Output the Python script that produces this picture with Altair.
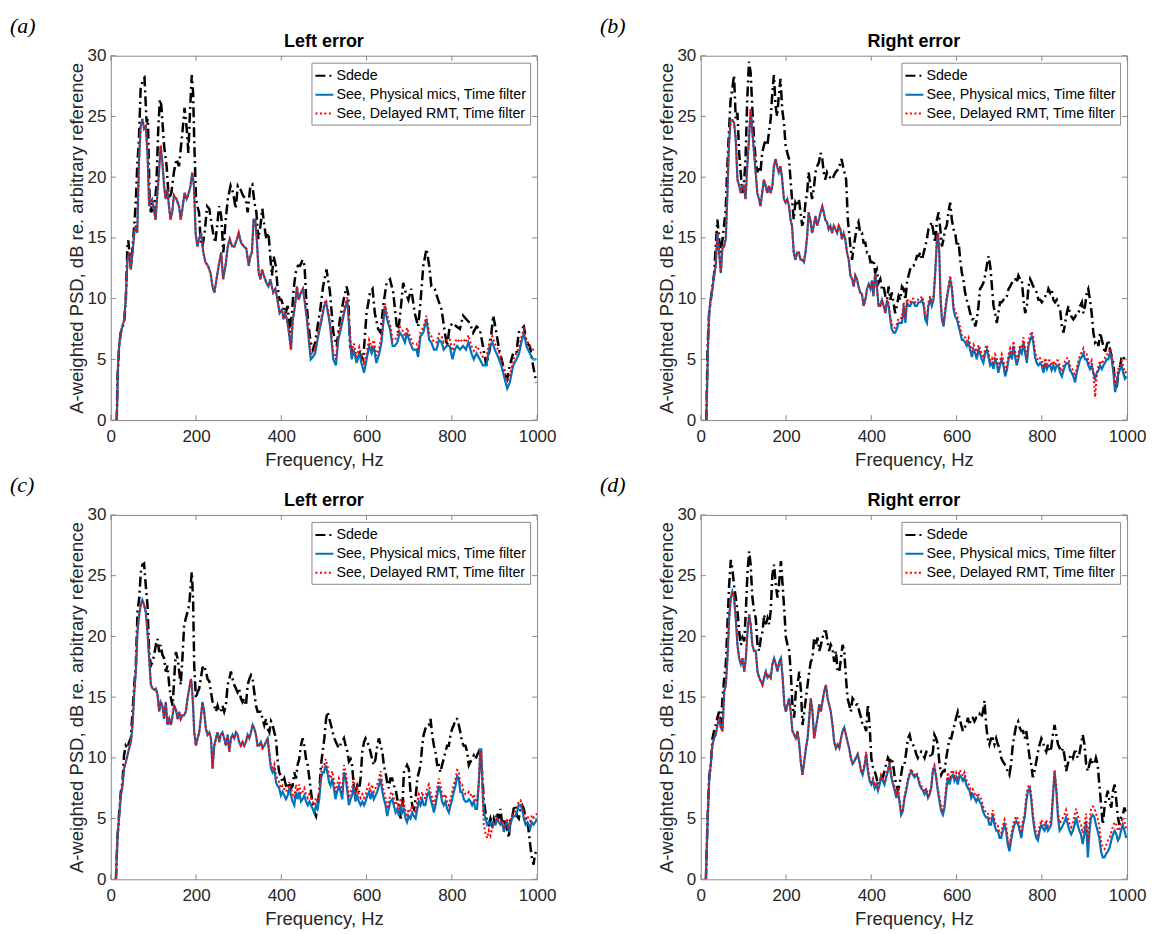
import altair as alt
import pandas as pd

SERIES = ["Sdede", "See, Physical mics, Time filter", "See, Delayed RMT, Time filter"]
COLORS = ["#000000", "#0072BD", "#FF0000"]
DASHES = [[10, 4, 2, 4], [1, 0], [2, 2.5]]
WIDTHS = [2.5, 2.2, 2.0]
X_TICKS = [0, 200, 400, 600, 800, 1000]
Y_TICKS = [0, 5, 10, 15, 20, 25, 30]
TITLES = ["Left error", "Right error", "Left error", "Right error"]
LABELS = ["(a)", "(b)", "(c)", "(d)"]

# ---------------- panel (a) ----------------
A_SDEDE = [(14,0),(15.6,3.4),(19.5,6.1),(23.4,7.2),(31,8.0),(35,9.7),(39,14.3),(41,14.8),(47,12.5),(55,16.0),(58.5,17.9),(62,20.9),(66,23.1),(70,27.3),(76,28.1),(79,28.2),(84,24.5),(87,24.8),(91,18.2),(94,17.1),(97,17.9),(101,17.1),(107,19.3),(111,23.7),(115,26.4),(118.5,25.9),(125,22.6),(131,20.9),(136,18.2),(142,18.7),(148,20.4),(154,21.5),(160,20.9),(164,22.3),(168,23.7),(173,25.7),(178,24.0),(182,22.0),(186,25.6),(190,28.4),(193,27.0),(196,22.6),(200,18.2),(203,17.6),(207,17.1),(210.5,14.9),(215,14.3),(220,15.4),(226,17.6),(231,17.4),(235,16.5),(240,15.4),(245,14.6),(249.5,16.0),(254,17.6),(259,16.8),(264,13.8),(269,16.3),(274.5,18.2),(281,19.3),(287,18.7),(293,17.4),(298,19.3),(304,19.0),(310,18.5),(316.5,18.2),(321,17.1),(327.5,19.3),(332,19.4),(337,17.9),(341.5,17.1),(346,14.9),(351,16.0),(355.5,17.4),(360,16.0),(365,14.9),(370,15.4),(374,13.5),(378,11.9),(382,13.5),(387,12.7),(391,11.0),(396,9.9),(400,9.9),(405,9.4),(410,8.8),(415,9.4),(419.5,7.2),(425,8.8),(429,10.8),(433.5,12.1),(439,12.7),(444,12.7),(450,13.2),(454.5,12.7),(458.5,9.9),(464,7.7),(469,6.4),(474,5.8),(479.5,6.4),(485,7.7),(491,9.0),(498,11.0),(506,12.4),(514,10.6),(522,7.2),(530,6.1),(537.5,8.3),(545,9.7),(553,11.0),(557,10.4),(561,6.1),(569,5.5),(576.5,5.0),(584,5.5),(592,5.0),(600,8.8),(608,10.5),(614,10.8),(619.5,8.8),(627,7.5),(633,7.2),(639,9.4),(647,11.3),(655,11.6),(662.5,10.5),(670,8.0),(674,7.2),(680,9.1),(686,11.3),(692,10.5),(698,9.9),(705,10.8),(713,8.8),(721,7.7),(726.5,9.7),(733,12.7),(740.6,14.1),(747,12.7),(752,11.0),(760,10.8),(768,9.9),(776,9.1),(783.6,7.2),(789,6.1),(795,7.7),(803,8.0),(811,7.7),(819,7.5),(826.5,8.6),(834,8.3),(842,8.0),(850,7.2),(858,7.7),(865.6,7.5),(873,6.1),(881,4.5),(889,5.8),(897,8.6),(903,7.5),(911,5.8),(919,4.7),(924,3.9),(930,3.4),(936,4.5),(944,5.5),(951.5,5.5),(957,7.2),(963,7.5),(969,7.7),(975,6.4),(983,6.1),(990.6,4.5),(998,3.1)]
A_PHYS = [(14,0),(17,4.5),(19.5,6.1),(23,7.2),(31,8.2),(35,9.9),(39,13.2),(43,13.8),(47,12.4),(51,13.8),(55,15.4),(58.5,16.0),(62,15.4),(66,21.2),(70,24.2),(74,24.8),(78,24.0),(82,24.2),(86,22.0),(90,17.6),(94,18.1),(97,18.2),(101,17.4),(105,16.5),(109,18.5),(113,20.4),(117,22.6),(121,21.2),(125,19.3),(128.6,18.2),(132.5,19.0),(136.5,17.6),(140,16.5),(144,17.1),(148,18.5),(154,18.2),(160,17.6),(164,16.5),(168,17.4),(173,18.7),(178,18.2),(183,18.7),(187,19.3),(191,20.4),(195,19.3),(199,15.4),(203,14.3),(207,14.9),(212,15.4),(217,13.8),(222,13.0),(228,12.7),(234,12.1),(238.6,11.0),(243,10.5),(248,11.6),(253,12.7),(259,13.8),(263.5,11.6),(269,12.7),(274.5,14.3),(279,14.9),(284.5,14.3),(290,14.3),(296,14.9),(300,15.4),(305.6,14.6),(312,14.3),(318,14.1),(323.6,12.7),(327.5,13.5),(331,13.8),(335,16.5),(339,16.5),(343,14.6),(347,12.1),(351,11.6),(355,12.4),(359,11.9),(365,11.3),(370,11.0),(374,11.6),(381,10.5),(386,10.8),(391,9.9),(396,8.8),(401.6,9.1),(405,8.3),(409,8.8),(413,8.3),(418,7.2),(422.6,5.8),(427,8.3),(432,9.4),(436.6,11.0),(440.5,9.9),(446,10.5),(450.7,10.8),(455,9.7),(460,8.3),(465,6.4),(469,5.0),(474,5.2),(479.5,5.5),(485,6.6),(490,7.5),(495,8.3),(500.6,9.4),(505,9.7),(511,8.5),(514.6,7.7),(522,5.0),(528,4.5),(533.6,6.6),(541,7.7),(549,9.1),(555,9.9),(559,7.7),(565,5.0),(570,5.8),(576.6,4.7),(583,5.5),(588,4.7),(594,3.9),(600,5.0),(606,6.1),(612,5.5),(617,6.1),(623,4.7),(630,5.5),(635,6.4),(643,9.4),(648,8.3),(655,7.5),(661,6.1),(666,6.1),(672,6.4),(678,7.2),(684,6.9),(690,6.4),(695,7.2),(701.6,6.4),(709,5.8),(717,5.8),(721,5.2),(726.5,6.9),(733,7.2),(740.6,8.3),(747,6.6),(752,6.4),(758,5.8),(764,5.8),(770,6.6),(776,6.4),(781,5.8),(787.5,6.1),(795,6.1),(801.6,5.0),(807,5.8),(812.5,6.1),(819,5.8),(826.6,6.1),(833,5.8),(839,6.4),(846,5.5),(851.5,5.0),(858,5.5),(865.6,5.0),(873,4.5),(881,4.5),(889,6.1),(895,6.4),(900.8,5.8),(908.6,5.2),(916,4.5),(924,3.4),(930,2.6),(936,3.1),(944,4.5),(951.6,5.0),(958,5.5),(963,6.4),(969,7.2),(975,6.1),(983,5.5),(990.6,5.0),(998,5.0)]
A_RMT = [(14,0),(17,4.5),(19.5,6.1),(23,7.2),(31,8.2),(35,9.9),(39,13.2),(43,13.8),(47,12.4),(51,13.8),(55,15.4),(58.5,16.0),(62,15.4),(66,21.2),(70,24.2),(74,24.8),(78,24.0),(82,24.2),(86,22.0),(90,17.6),(94,18.1),(97,18.2),(101,17.4),(105,16.5),(109,18.5),(113,20.4),(117,22.6),(121,21.2),(125,19.3),(128.6,18.2),(132.5,19.0),(136.5,17.6),(140,16.5),(144,17.1),(148,18.5),(154,18.2),(160,17.6),(164,16.5),(168,17.4),(173,18.7),(178,18.2),(183,18.7),(187,19.3),(191,20.4),(195,19.3),(199,15.4),(203,14.3),(207,14.9),(212,15.4),(217,13.8),(222,13.0),(228,12.7),(234,12.1),(238.6,11.0),(243,10.5),(248,11.6),(253,12.7),(259,13.8),(263.5,11.6),(269,12.7),(274.5,14.3),(279,14.9),(284.5,14.3),(290,14.3),(296,14.9),(300,15.4),(305.6,14.6),(312,14.3),(318,14.1),(323.6,12.7),(327.5,13.5),(331,13.8),(335,16.5),(339,16.5),(343,14.6),(347,12.1),(351,11.6),(355,12.4),(359,11.9),(365,11.3),(370,11.0),(374,11.6),(381,10.5),(386,10.8),(391,9.9),(396,8.8),(401.6,9.1),(405,8.3),(409,8.8),(413,8.3),(418,7.2),(422.6,5.8),(427,8.3),(432,9.4),(436.6,11.0),(440.5,9.9),(446,10.5),(450.7,10.8),(455,9.8),(460,8.5),(465,6.7),(469,5.4),(474,5.6),(479.5,5.8),(485,6.9),(490,7.7),(495,8.5),(500.6,9.6),(505,9.9),(511,8.8),(514.6,8.0),(522,5.5),(528,5.0),(533.6,7.0),(541,8.0),(549,9.4),(555,10.1),(559,8.1),(565,5.5),(570,6.3),(576.6,5.2),(583,6.0),(588,5.3),(594,4.5),(600,5.5),(606,6.6),(612,6.0),(617,6.6),(623,5.3),(630,6.0),(635,6.9),(643,9.6),(648,8.7),(655,7.9),(661,6.6),(666,6.6),(672,6.9),(678,7.7),(684,7.4),(690,6.9),(695,7.6),(701.6,6.9),(709,6.3),(717,6.3),(721,5.8),(726.5,7.3),(733,7.6),(740.6,8.6),(747,7.1),(752,6.9),(758,6.4),(764,6.4),(770,7.1),(776,6.9),(781,6.4),(787.5,6.6),(795,6.7),(801.6,5.7),(807,6.4),(812.5,6.7),(819,6.4),(826.6,6.7),(833,6.4),(839,7.0),(846,6.1),(851.5,5.7),(858,6.1),(865.6,5.7),(873,5.2),(881,5.1),(889,6.6),(895,6.9),(900.8,6.3),(908.6,5.8),(916,5.1),(924,4.0),(930,3.2),(936,3.6),(944,5.0),(951.6,5.5),(958,6.0),(963,6.8),(969,7.5),(975,6.6),(983,6.1),(990.6,5.8),(998,5.9)]

# ---------------- panel (b) ----------------
B_SDEDE = [(13,0),(16,6.1),(19.5,8.8),(23,9.7),(27,11.0),(31,11.9),(35,14.3),(39,16.5),(43,14.9),(47,13.8),(51,14.9),(54.6,16.0),(58.5,17.4),(62,20.7),(66,23.7),(70,26.4),(74,27.3),(78,28.4),(82,24.8),(86,25.3),(90,22.0),(93.6,20.4),(97.5,18.7),(101,19.3),(105,21.5),(109,26.4),(113,29.5),(117,28.6),(121,25.6),(125,23.1),(128.7,21.5),(132.6,20.4),(136.5,20.9),(140,20.4),(144,22.0),(148,22.6),(152,23.1),(156,22.6),(160,23.7),(164,24.8),(168,27.0),(171.5,28.4),(175.4,25.9),(179,25.0),(183,26.7),(187,28.1),(191,25.6),(195,24.5),(199,22.6),(203,22.0),(207,21.5),(210.5,19.8),(214,18.2),(218,16.5),(222,17.9),(226,17.6),(230,18.2),(234,17.1),(238,16.0),(242,16.5),(245.6,17.9),(249.5,18.7),(253,20.4),(257,19.3),(261,18.2),(265,19.0),(269,20.4),(273,20.9),(277,21.2),(281,22.0),(285,21.5),(288.5,20.4),(292,19.8),(296,20.4),(300,20.1),(308,19.8),(316,20.4),(323.6,20.7),(330,21.5),(335,20.7),(341,19.8),(345,16.5),(351,14.3),(355,13.2),(358.7,14.3),(362.6,15.1),(366.5,16.0),(370,16.3),(374,15.4),(378,15.4),(382,14.6),(386,14.6),(390,13.8),(394,13.8),(398,13.0),(401.6,13.0),(405.5,13.2),(409,12.1),(413,12.4),(417,11.3),(421,11.6),(425,10.8),(429,11.0),(433,10.2),(437,9.9),(440.6,11.0),(444.5,9.9),(448,10.5),(452,9.7),(456,8.8),(460,9.4),(464,10.2),(468,9.9),(472,11.0),(476,10.8),(480,9.9),(483.6,11.3),(487.5,11.9),(491,12.4),(495,12.7),(499,12.7),(503,13.0),(507,13.5),(511,13.5),(515,13.8),(519,13.2),(523,13.8),(526.6,14.3),(530.5,14.9),(534,15.7),(538,16.0),(542,16.3),(546,15.4),(550,14.6),(554,16.5),(558,17.1),(562,15.7),(565.6,14.3),(569.5,14.9),(573,15.7),(577,16.0),(581,17.1),(585,17.9),(589,16.5),(593,15.7),(597,15.4),(600.8,14.3),(605,14.6),(608.6,13.2),(612.5,12.1),(616,11.6),(620,10.5),(624,9.9),(628,9.4),(632,8.8),(636,8.3),(640,8.3),(644,7.7),(647.6,8.3),(651.5,9.4),(655,10.8),(659,11.0),(663,11.3),(667,11.9),(671,12.7),(675,13.5),(679,12.7),(683,11.0),(686.7,9.4),(690.6,8.8),(694.5,8.0),(698,8.8),(702,9.7),(706,9.7),(710,9.9),(714,9.9),(718,10.2),(722,10.8),(725.8,11.0),(730,11.3),(733.6,11.6),(737.5,11.6),(741,11.3),(745,11.9),(749,11.6),(753,11.6),(757,9.9),(761,8.8),(765,9.4),(768.75,11.0),(772.6,11.6),(776.6,11.3),(780,11.0),(784,10.8),(788,10.5),(792,9.9),(796,9.9),(800,9.7),(804,9.9),(808,10.2),(812,10.2),(815.6,10.8),(819.5,10.5),(823,10.8),(827,9.9),(831,9.7),(835,9.9),(839,9.4),(843,9.1),(847,7.7),(851,7.2),(854.7,8.0),(858.6,8.8),(862.5,9.4),(866,8.8),(870,8.5),(874,8.3),(878,8.5),(882,8.8),(886,8.8),(890,9.4),(894,9.7),(897.6,8.8),(901.5,9.4),(905.5,10.5),(909,10.8),(913,9.9),(917,8.8),(921,7.2),(925,6.4),(929,6.6),(933,6.1),(937,7.2),(941,6.6),(944.5,6.1),(948,5.5),(952,6.1),(956,6.6),(960,5.8),(964,5.2),(968,4.7),(972,2.8),(976,2.8),(980,3.9),(984,4.5),(987.5,5.2),(991,5.0),(995,5.2),(999,5.0)]
B_PHYS = [(13,0),(17,6.1),(19.5,8.8),(23,9.9),(27,10.7),(31,11.9),(35,12.7),(39,15.4),(43,13.8),(47,12.1),(51,14.3),(54.6,14.3),(58.5,14.9),(62,18.2),(66,22.6),(70,24.7),(74,24.7),(78,24.5),(82,23.1),(86,19.8),(90,19.3),(93.6,18.7),(97.5,19.3),(101,19.3),(105,18.2),(109,20.9),(113,23.1),(117,25.6),(121,23.7),(125,22.0),(128.7,20.4),(132.6,18.7),(136.5,18.2),(140,17.6),(144,18.7),(148,19.8),(152,19.3),(156,18.7),(160,19.3),(164,18.7),(168,19.3),(171.5,20.9),(175.4,21.5),(179,20.9),(183,20.4),(187,20.9),(191,19.8),(195,18.2),(199,17.9),(203,18.2),(207,17.6),(210.5,16.5),(214,16.0),(218,13.8),(222,13.2),(226,13.8),(230,13.8),(234,13.2),(238,13.2),(242,13.0),(245.6,13.8),(249.5,15.1),(253,17.1),(257,16.5),(261,15.4),(265,16.0),(269,16.8),(273,16.0),(277,16.5),(281,17.1),(285,17.6),(288.5,17.1),(292,16.5),(296,16.3),(300,15.7),(304,16.0),(308,15.4),(312,16.0),(316,15.7),(320,15.4),(323.6,16.0),(327.5,15.7),(331,14.9),(335,15.4),(339,14.9),(343,13.8),(347,13.2),(351,11.9),(355,11.6),(358.7,11.0),(362.6,11.9),(366.5,11.6),(370,11.0),(374,10.5),(378,10.4),(382,9.4),(386,9.9),(390,10.8),(394,11.2),(398,10.8),(401.6,11.5),(405,10.2),(409,12.1),(413,11.0),(417,9.4),(421,9.4),(425,9.9),(429,9.4),(433,8.8),(437,9.9),(440.6,9.4),(444.5,8.3),(448,7.5),(452,7.2),(456,7.2),(460,7.5),(464,8.0),(468,8.0),(472,8.0),(476,9.4),(480,8.0),(483.6,9.7),(487.5,9.4),(491,9.4),(495,9.7),(499,9.7),(503,9.4),(507,9.4),(511,9.7),(515,9.7),(519,9.9),(523,9.4),(526.6,8.3),(530.5,8.0),(534,9.4),(538,9.9),(542,9.4),(546,9.9),(550,12.1),(554,14.9),(556.6,15.4),(559.4,13.8),(562.5,9.9),(565.6,8.3),(569.5,7.7),(573,8.8),(577,9.9),(581,10.8),(585,11.6),(589,10.8),(593,9.1),(597,8.5),(600.8,8.3),(605,7.7),(608.6,7.2),(612.5,6.6),(616,6.6),(620,6.4),(624,6.1),(628,6.4),(632,5.8),(636,5.2),(640,5.8),(644,5.5),(647.6,5.0),(651.5,5.8),(655,5.5),(659,5.0),(663,4.7),(667,5.5),(671,5.8),(675,5.2),(679,4.5),(683,4.7),(686.7,4.2),(690.6,5.0),(694.5,4.7),(698,3.9),(702,4.5),(706,5.0),(710,4.5),(714,3.6),(718,4.1),(722,5.0),(725.8,5.5),(730,5.0),(733.6,6.1),(737.5,5.2),(741,4.5),(745,5.0),(749,5.8),(753,5.5),(757,6.4),(761,5.5),(765,4.7),(768.75,6.1),(772.6,6.6),(776.6,6.9),(780,6.4),(784,5.2),(788,4.7),(792,4.5),(796,4.7),(800,4.5),(804,3.9),(808,4.7),(812,4.2),(815.6,4.5),(819.5,4.5),(823,4.1),(827,4.5),(831,4.1),(835,4.5),(839,4.5),(843,3.9),(847,3.6),(851,4.1),(854.7,4.5),(858.6,4.7),(862.5,4.7),(866,4.1),(870,3.9),(874,3.6),(878,3.1),(882,3.9),(886,4.5),(890,5.0),(894,5.2),(897.6,5.5),(901.5,5.0),(905.5,5.0),(909,4.5),(913,4.2),(917,4.5),(921,3.9),(925,3.4),(929,3.9),(933,4.1),(937,4.5),(941,4.2),(944.5,4.5),(948,4.7),(952,5.0),(956,5.0),(960,5.5),(964,5.0),(968,3.9),(972,2.3),(976,3.0),(980,3.9),(984,4.2),(987.5,4.5),(991,3.9),(995,3.4),(999,3.6)]
B_RMT = [(13,0),(17,6.1),(19.5,8.8),(23,9.9),(27,10.7),(31,11.9),(35,12.7),(39,15.4),(43,13.8),(47,12.1),(51,14.3),(54.6,14.3),(58.5,14.9),(62,18.2),(66,22.6),(70,24.7),(74,24.7),(78,24.5),(82,23.1),(86,19.8),(90,19.3),(93.6,18.7),(97.5,19.3),(101,19.3),(105,18.2),(109,20.9),(113,23.1),(117,25.6),(121,23.7),(125,22.0),(128.7,20.4),(132.6,18.7),(136.5,18.2),(140,17.6),(144,18.7),(148,19.8),(152,19.3),(156,18.7),(160,19.3),(164,18.7),(168,19.3),(171.5,20.9),(175.4,21.5),(179,20.9),(183,20.4),(187,20.9),(191,19.8),(195,18.2),(199,17.9),(203,18.2),(207,17.6),(210.5,16.5),(214,16.0),(218,13.8),(222,13.2),(226,13.8),(230,13.8),(234,13.2),(238,13.2),(242,13.0),(245.6,13.8),(249.5,15.1),(253,17.1),(257,16.5),(261,15.4),(265,16.0),(269,16.8),(273,16.0),(277,16.5),(281,17.1),(285,17.6),(288.5,17.1),(292,16.5),(296,16.3),(300,15.7),(304,16.0),(308,15.4),(312,16.0),(316,15.7),(320,15.4),(323.6,16.0),(327.5,15.7),(331,14.9),(335,15.4),(339,14.9),(343,13.8),(347,13.2),(351,11.9),(355,11.6),(358.7,11.0),(362.6,11.9),(366.5,11.6),(370,11.0),(374,10.5),(378,10.4),(382,9.4),(386,9.9),(390,10.8),(394,11.2),(398,10.8),(401.6,11.5),(405,10.2),(409,12.1),(413,11.0),(417,9.4),(421,9.4),(425,9.9),(429,9.4),(433,8.8),(437,9.9),(440.6,9.6),(444.5,8.6),(448,7.9),(452,7.6),(456,7.6),(460,7.9),(464,8.4),(468,8.4),(472,8.4),(476,9.7),(480,8.4),(483.6,10.0),(487.5,9.7),(491,9.7),(495,10.0),(499,10.0),(503,9.7),(507,9.7),(511,10.0),(515,10.0),(519,10.2),(523,9.7),(526.6,8.7),(530.5,8.4),(534,9.7),(538,10.2),(542,9.7),(546,10.2),(550,12.3),(554,15.0),(556.6,15.5),(559.4,14.0),(562.5,10.2),(565.6,8.6),(569.5,8.0),(573,9.1),(577,10.2),(581,11.0),(585,11.9),(589,11.1),(593,9.4),(597,8.9),(600.8,8.7),(605,8.1),(608.6,7.6),(612.5,7.0),(616,7.0),(620,6.8),(624,6.5),(628,6.8),(632,6.2),(636,5.6),(640,6.2),(644,5.9),(647.6,5.4),(651.5,6.2),(655,5.9),(659,5.4),(663,5.1),(667,5.9),(671,6.2),(675,5.6),(679,4.9),(683,5.1),(686.7,4.7),(690.6,5.4),(694.5,5.1),(698,4.3),(702,4.9),(706,5.4),(710,4.9),(714,4.0),(718,4.5),(722,5.4),(725.8,5.9),(730,5.4),(733.6,6.5),(737.5,5.6),(741,4.9),(745,5.4),(749,6.2),(753,5.9),(757,6.8),(761,5.9),(765,5.1),(768.75,6.5),(772.6,7.0),(776.6,7.3),(780,6.8),(784,5.6),(788,5.1),(792,4.9),(796,5.1),(800,4.9),(804,4.3),(808,5.1),(812,4.6),(815.6,4.9),(819.5,4.9),(823,4.5),(827,4.9),(831,4.5),(835,4.9),(839,4.9),(843,4.3),(847,4.0),(851,4.5),(854.7,4.9),(858.6,5.1),(862.5,5.1),(866,4.5),(870,4.3),(874,4.0),(878,3.6),(882,4.3),(886,4.9),(890,5.4),(894,5.6),(897.6,5.9),(901.5,5.4),(905.5,5.4),(909,4.9),(913,4.6),(917,4.9),(921,3.8),(925,1.9),(929,3.6),(933,4.5),(937,4.9),(941,4.6),(944.5,4.9),(948,5.1),(952,5.4),(956,5.4),(960,5.9),(964,5.4),(968,4.3),(972,2.8),(976,3.4),(980,4.3),(984,4.6),(987.5,4.9),(991,4.4),(995,3.9),(999,4.0)]

# ---------------- panel (c) ----------------
C_SDEDE = [(12,0),(15.6,3.4),(19.6,5.5),(23.5,7.2),(27.4,8.0),(31,10.2),(35,11.0),(39,10.8),(43,11.3),(47,11.6),(51,13.8),(55,16.0),(58.7,17.6),(62.6,22.0),(66.5,23.1),(70.5,25.3),(74,25.9),(78,26.0),(82,24.2),(86,22.6),(90,18.7),(94,17.6),(98,17.9),(102,18.5),(105.7,19.3),(109.6,19.8),(113.5,18.7),(117,19.3),(121,18.5),(125,18.2),(129,17.1),(133,17.6),(137,16.0),(141,14.9),(145,14.3),(148.7,16.5),(152.6,18.7),(156.6,18.2),(160.5,17.1),(164,16.0),(168,18.2),(172,20.9),(176,21.5),(180,22.0),(184,22.6),(188,24.5),(190,25.3),(193,23.1),(195.7,17.6),(199.6,14.9),(203.5,15.4),(207.4,15.7),(211,16.5),(215,17.4),(219,17.6),(223,17.1),(227,16.5),(231,16.3),(235,15.4),(238.7,14.6),(242.7,14.3),(246.6,13.8),(250.5,14.3),(254.4,13.8),(258,13.8),(262,14.3),(266,13.8),(270,14.3),(274,16.0),(278,16.5),(281.8,17.1),(285.7,16.5),(289.6,16.0),(293.5,15.7),(297.4,15.4),(301,15.7),(305,14.9),(309,14.6),(313,14.9),(317,14.3),(321,16.0),(325,16.5),(328.8,16.8),(332.7,16.5),(336.6,15.4),(340.5,14.3),(344.4,13.8),(348,13.8),(352,13.8),(356,13.2),(360,12.7),(364,13.2),(368,12.4),(372,12.1),(375.8,13.0),(379.6,12.7),(383.6,12.1),(387.5,11.6),(391,9.9),(395,8.8),(399,8.5),(403,8.0),(407,8.3),(411,7.7),(415,7.5),(418.8,8.0),(422.7,7.5),(426.6,7.7),(430.5,8.8),(434.4,8.3),(438,9.4),(442,9.9),(446,11.0),(450,11.6),(454,11.0),(458,9.9),(462,9.4),(465.8,8.3),(469.7,7.2),(473.6,6.1),(477.5,5.5),(481.4,5.2),(485,6.1),(489,7.2),(493,9.4),(497,10.5),(501,11.6),(505,13.2),(508.8,13.8),(512.7,13.2),(516.6,12.7),(520.5,12.1),(524.5,11.6),(528,11.3),(532,11.0),(536,10.8),(540,11.2),(543,11.3),(547,11.6),(551,11.0),(555,10.5),(558.6,9.7),(562.5,9.9),(566,9.4),(570,7.7),(574,7.2),(578,7.7),(582,7.2),(586,8.3),(590,10.5),(594,11.3),(597.6,11.6),(601.6,11.3),(605.5,11.0),(609,10.5),(613,9.9),(617,9.4),(621,9.9),(625,11.0),(629,11.6),(633,11.0),(637,10.5),(640.6,9.4),(644.5,8.8),(648.4,8.0),(652,7.5),(656,8.3),(660,8.3),(664,7.7),(668,7.5),(672,6.6),(676,6.1),(680,5.0),(683.6,5.5),(687.5,8.8),(691.4,9.1),(695,9.4),(699,9.1),(703,7.2),(707,6.1),(711,5.8),(715,6.6),(719,8.3),(722.6,8.8),(726.5,9.4),(730.5,11.0),(734,11.9),(738,12.4),(742,12.7),(746,12.7),(750,13.2),(754,11.9),(758,11.0),(761.7,10.5),(765.6,9.4),(769.5,9.4),(773.4,8.8),(777,9.4),(781,9.9),(785,10.5),(789,11.0),(793,11.0),(797,11.9),(800.8,12.4),(804.7,12.7),(808.6,13.2),(812.5,13.2),(816.4,12.7),(820,12.1),(824,11.3),(828,11.0),(832,11.0),(836,10.5),(840,9.4),(844,9.7),(847.6,9.9),(851.5,10.2),(855.5,9.9),(859,10.2),(863,10.5),(867,9.7),(871,8.8),(875,6.6),(879,5.5),(883,4.7),(886.7,4.5),(890.6,5.0),(894.5,4.5),(898.4,5.0),(902,4.5),(906,5.5),(910,5.0),(914,5.8),(918,4.5),(922,5.0),(925.8,4.5),(929.7,4.1),(933.6,3.4),(937.5,5.0),(941.4,5.0),(945,5.8),(949,6.1),(953,5.2),(957,5.0),(961,5.8),(965,6.1),(969,5.8),(973,5.0),(977,5.0),(980.5,3.9),(984,2.8),(988,1.7),(992,1.2),(994.5,2.0),(998,2.3)]
C_PHYS = [(12,0),(15.6,3.4),(19.6,5.2),(23.5,6.9),(27.4,7.7),(31,9.1),(35,9.6),(39,10.2),(43,10.8),(47,11.3),(51,12.7),(55,15.4),(58.7,17.1),(62.6,20.4),(66.5,21.8),(70.5,22.6),(74,23.0),(78,22.6),(82,22.0),(86,20.4),(90,18.2),(94,16.0),(98,15.7),(102,15.6),(105.7,15.7),(109.6,15.2),(113.5,13.8),(117,14.6),(121,14.3),(125,13.2),(129,14.6),(133,12.7),(137,13.2),(141,12.7),(145,13.5),(148.7,14.3),(152.6,14.0),(156.6,13.2),(160.5,13.8),(164,13.2),(168,13.5),(172,13.5),(176,13.8),(180,14.9),(184,15.7),(188,16.5),(190,16.0),(193,14.3),(195.7,12.1),(199.6,11.0),(203.5,11.6),(207.4,12.1),(211,13.2),(215,14.6),(219,13.8),(223,12.4),(227,11.9),(231,12.1),(235,11.6),(238.7,9.1),(242.7,11.0),(246.6,11.6),(250.5,12.1),(254.4,11.3),(258,11.9),(262,12.1),(266,11.6),(270,11.0),(274,11.9),(278,10.5),(281.8,11.6),(285.7,11.9),(289.6,11.6),(293.5,12.1),(297.4,11.9),(301,11.3),(305,11.0),(309,11.3),(313,11.0),(317,11.3),(321,11.9),(325,11.6),(328.8,12.1),(332.7,12.7),(336.6,12.4),(340.5,11.9),(344.4,11.0),(348,11.0),(352,11.3),(356,10.8),(360,11.0),(364,11.3),(368,11.6),(372,10.2),(375.8,9.1),(379.6,8.8),(383.6,9.1),(387.5,8.0),(391,7.7),(395,7.5),(399,6.9),(403,7.2),(407,6.9),(411,6.6),(415,6.9),(418.8,7.5),(422.7,6.9),(426.6,6.4),(430.5,6.1),(434.4,7.2),(438,6.6),(442,7.2),(446,6.4),(450,6.6),(454,6.9),(458,6.4),(462,6.1),(465.8,6.4),(469.7,6.1),(473.6,5.8),(477.5,5.5),(481.4,6.1),(485,5.8),(489,6.6),(493,8.3),(497,8.8),(500,8.8),(504,9.4),(508,8.8),(512,8.0),(515.6,7.7),(519.5,8.3),(523.4,7.5),(527,6.6),(531,7.2),(535,7.7),(539,7.2),(543,6.6),(547,8.8),(551,8.3),(555,7.2),(558.6,6.1),(562.5,6.6),(566,6.9),(570,7.7),(574,6.4),(578,6.9),(582,6.4),(586,6.1),(590,6.4),(594,6.1),(597.6,6.4),(601.6,6.9),(605.5,7.2),(609,6.6),(613,7.2),(617,6.6),(625,7.2),(629,7.7),(633,8.3),(637,7.2),(640.6,6.6),(644.5,6.1),(648.4,5.2),(652,5.8),(656,6.4),(660,6.6),(664,6.1),(668,5.5),(672,5.8),(676,5.2),(680,6.1),(683.6,5.5),(687.5,5.8),(691.4,5.0),(695,4.7),(699,5.2),(703,5.0),(707,5.5),(711,5.2),(715,5.0),(719,5.8),(722.6,6.4),(726.5,6.1),(730.5,6.6),(734,6.1),(738,6.1),(742,6.9),(746,7.2),(750,6.6),(754,6.1),(758,5.5),(761.7,6.1),(765.6,6.9),(769.5,7.7),(773.4,7.2),(777,6.4),(781,6.1),(785,6.4),(789,5.8),(793,5.5),(797,6.1),(800.8,6.6),(804.7,7.2),(808.6,7.7),(812.5,8.5),(816.4,8.3),(820,7.2),(824,7.2),(828,6.6),(832,6.4),(836,6.4),(840,6.6),(844,6.4),(847.6,6.1),(851.5,6.4),(855.5,5.8),(859,5.8),(863,7.7),(867,10.7),(869,10.7),(872.6,7.2),(875,5.5),(879,5.0),(883,4.5),(886.7,4.7),(890.6,4.5),(894.5,4.7),(898.4,4.5),(902,4.5),(906,5.0),(910,4.7),(914,4.5),(918,4.7),(922,3.9),(925.8,4.5),(929.7,4.7),(933.6,3.9),(937.5,4.5),(941.4,5.0),(945,5.2),(949,5.2),(953,5.5),(957,6.1),(961,6.1),(965,5.8),(969,5.0),(973,4.5),(977,4.7),(980.5,4.5),(984,4.2),(988,4.7),(992,4.5),(996,4.7),(1000,5.0)]
C_RMT = [(12,0),(15.6,3.4),(19.6,5.2),(23.5,6.9),(27.4,7.7),(31,9.1),(35,9.6),(39,10.2),(43,10.8),(47,11.3),(51,12.7),(55,15.4),(58.7,17.1),(62.6,20.4),(66.5,21.8),(70.5,22.6),(74,23.0),(78,22.6),(82,22.0),(86,20.4),(90,18.2),(94,16.0),(98,15.7),(102,15.6),(105.7,15.7),(109.6,15.2),(113.5,13.8),(117,14.6),(121,14.3),(125,13.2),(129,14.6),(133,12.7),(137,13.2),(141,12.7),(145,13.5),(148.7,14.3),(152.6,14.0),(156.6,13.2),(160.5,13.8),(164,13.2),(168,13.5),(172,13.5),(176,13.8),(180,14.9),(184,15.7),(188,16.5),(190,16.0),(193,14.3),(195.7,12.1),(199.6,11.0),(203.5,11.6),(207.4,12.1),(211,13.2),(215,14.6),(219,13.8),(223,12.4),(227,11.9),(231,12.1),(235,11.6),(238.7,9.1),(242.7,11.0),(246.6,11.6),(250.5,12.1),(254.4,11.3),(258,11.9),(262,12.1),(266,11.6),(270,11.0),(274,11.9),(278,10.5),(281.8,11.6),(285.7,11.9),(289.6,11.6),(293.5,12.1),(297.4,11.9),(301,11.3),(305,11.0),(309,11.3),(313,11.0),(317,11.3),(321,11.9),(325,11.6),(328.8,12.1),(332.7,12.7),(336.6,12.4),(340.5,11.9),(344.4,11.0),(348,11.0),(352,11.3),(356,10.8),(360,11.0),(364,11.3),(368,11.6),(372,10.4),(375.8,9.4),(379.6,9.2),(383.6,9.5),(387.5,8.5),(391,8.3),(395,8.0),(399,7.5),(403,7.7),(407,7.4),(411,7.2),(415,7.4),(418.8,8.0),(422.7,7.5),(426.6,7.0),(430.5,6.7),(434.4,7.8),(438,7.2),(442,7.8),(446,7.0),(450,7.2),(454,7.5),(458,7.0),(462,6.7),(465.8,7.0),(469.7,6.7),(473.6,6.4),(477.5,6.1),(481.4,6.7),(485,6.4),(489,7.2),(493,8.8),(497,9.3),(500,9.3),(504,9.9),(508,9.4),(512,8.6),(515.6,8.3),(519.5,8.9),(523.4,8.1),(527,7.2),(531,7.8),(535,8.3),(539,7.8),(543,7.2),(547,9.4),(551,8.9),(555,7.8),(558.6,6.7),(562.5,7.2),(566,7.5),(570,8.3),(574,7.0),(578,7.5),(582,7.0),(586,6.7),(590,7.0),(594,6.7),(597.6,7.0),(601.6,7.5),(605.5,7.8),(609,7.2),(613,7.8),(617,7.2),(625,7.8),(629,8.3),(633,8.9),(637,7.8),(640.6,7.2),(644.5,6.7),(648.4,5.8),(652,6.4),(656,7.0),(660,7.2),(664,6.7),(668,6.1),(672,6.4),(676,5.8),(680,6.7),(683.6,6.1),(687.5,6.4),(691.4,5.6),(695,5.3),(699,5.8),(703,5.6),(707,6.1),(711,5.8),(715,5.6),(719,6.4),(722.6,7.0),(726.5,6.7),(730.5,7.2),(734,6.7),(738,6.7),(742,7.5),(746,7.8),(750,7.2),(754,6.7),(758,6.1),(761.7,6.7),(765.6,7.5),(769.5,8.3),(773.4,7.8),(777,7.0),(781,6.7),(785,7.0),(789,6.4),(793,6.1),(797,6.7),(800.8,7.2),(804.7,7.8),(808.6,8.3),(812.5,9.0),(816.4,8.9),(820,7.8),(824,7.8),(828,7.2),(832,7.0),(836,7.0),(840,7.2),(844,7.0),(847.6,6.7),(851.5,7.0),(855.5,6.4),(859,6.4),(863,8.0),(867,10.5),(869,10.5),(872.6,6.5),(875,4.5),(879,3.8),(883,3.4),(886.7,4.0),(890.6,3.6),(894.5,4.2),(898.4,4.4),(902,4.6),(906,5.1),(910,4.8),(914,4.7),(918,4.9),(922,4.2),(925.8,4.8),(929.7,5.0),(933.6,4.2),(937.5,4.8),(941.4,5.3),(945,5.5),(949,5.6),(953,5.9),(957,6.4),(961,6.5),(965,6.1),(969,5.4),(973,5.0),(977,5.2),(980.5,5.0),(984,4.8),(988,5.3),(992,5.1),(996,5.3),(1000,5.4)]

# ---------------- panel (d) ----------------
D_SDEDE = [(12,0),(15.7,4.8),(19.6,8.4),(23.5,9.5),(27.4,11.6),(31,12.2),(35,12.7),(39,13.3),(43,13.8),(47,12.7),(51,14.9),(55,16.6),(58.7,17.7),(62.6,21.0),(66.5,24.2),(70.5,26.3),(74,25.6),(78,24.2),(82,23.2),(86,22.1),(90,20.4),(94,19.3),(98,19.9),(102,19.6),(105.7,22.1),(109.6,25.3),(113.5,27.0),(117,25.9),(121,23.2),(125,22.1),(129,21.5),(133,19.3),(137,18.8),(141,19.9),(144.8,20.4),(148.7,21.8),(152.6,21.0),(156.6,21.5),(160.5,21.0),(164,22.1),(168,25.1),(172,25.9),(176,24.2),(180,23.2),(184,24.5),(188,26.2),(192,24.2),(196,22.1),(199.6,19.9),(203.5,19.3),(207.4,18.8),(211,17.1),(215,14.4),(219,13.3),(223,15.5),(227,16.0),(231,17.1),(235,15.5),(238.7,12.7),(242.7,13.8),(246.6,14.9),(250.5,16.0),(254.4,17.1),(258,17.9),(262,18.2),(266,19.9),(270,19.3),(274,19.9),(278,18.8),(281.8,19.3),(285.7,19.9),(289.6,20.4),(293.5,20.4),(297.4,19.6),(301,18.8),(305,19.3),(309,19.0),(313,17.9),(317,18.8),(321,17.1),(325,17.1),(328.8,18.2),(332.7,19.3),(336.6,18.8),(340.5,16.6),(344.4,14.9),(348,14.4),(352,13.8),(356,14.9),(360,14.7),(364,14.4),(368,14.4),(372,13.8),(376,13.3),(379.6,12.7),(383.6,12.7),(388,12.2),(392,14.4),(396,12.7),(400,10.0),(404,9.2),(408,8.9),(412,8.4),(415.6,7.8),(419.5,8.1),(423,8.4),(427,8.4),(431,8.9),(435,9.5),(439,10.0),(443,9.7),(447,10.0),(451,9.5),(455,8.4),(458.6,7.8),(462.5,7.3),(466,7.8),(470,8.6),(474,9.5),(478,9.5),(482,10.5),(486,11.6),(490,11.9),(493.75,11.3),(497.6,11.1),(501.6,10.8),(505.5,10.3),(509,10.0),(513,10.3),(517,10.5),(521,10.3),(525,10.0),(529,10.5),(533,10.5),(537,10.3),(540.6,10.0),(544.5,10.5),(548,11.9),(552,11.6),(556,11.1),(560,9.5),(564,8.6),(568,8.9),(571.9,8.9),(575.8,10.0),(579.7,10.8),(583.6,11.6),(587.5,11.6),(591.4,12.2),(595,12.7),(599,13.3),(603,13.8),(607,13.3),(611,12.7),(615,12.2),(618.75,12.5),(622.6,12.7),(626.6,13.3),(630.5,12.7),(634.4,13.3),(638,13.3),(642,13.0),(646,13.3),(650,13.3),(654,13.6),(658,13.3),(662,13.8),(665.6,14.7),(669.5,12.7),(673,11.6),(677,11.1),(681,11.6),(685,11.6),(689,11.1),(693,11.6),(697,11.1),(701,10.8),(704.7,10.0),(708.6,9.7),(712.5,9.5),(716.4,9.2),(720,8.9),(724,8.6),(728,9.5),(732,11.1),(736,11.9),(740,12.7),(744.5,13.0),(748,12.5),(752,12.2),(756,12.2),(760,11.6),(763.6,12.2),(767.5,11.1),(771.5,10.0),(775,9.5),(779,8.4),(783,8.9),(787,9.7),(791,10.5),(795,11.1),(799,11.6),(802.7,11.3),(806.6,10.8),(810.5,10.5),(814.5,11.1),(818,10.5),(822,10.8),(826,11.9),(830,12.7),(834,11.9),(838,11.1),(842,10.8),(846,10.5),(850,10.8),(854,10.0),(857,8.9),(861,9.5),(865,10.0),(869,10.3),(873,10.0),(877,10.5),(880.5,10.5),(884,10.0),(888,10.3),(892,11.1),(896,11.9),(900,11.1),(904,9.5),(908,8.9),(912,9.5),(915.6,10.0),(919.5,9.5),(923.4,9.5),(927,10.0),(931,9.5),(935,7.8),(939,6.2),(943,4.5),(947,5.9),(951,6.7),(955,7.3),(959,6.4),(963,5.9),(967,7.3),(971,7.8),(975,6.4),(978.5,5.1),(982,4.5),(986,5.1),(990,5.3),(994,5.9),(998,5.3)]
D_PHYS = [(12,0),(15.7,4.5),(19.6,8.1),(23.5,9.5),(27.4,11.1),(31,11.6),(35,11.9),(39,12.7),(43,13.3),(47,12.5),(51,12.2),(55,15.5),(58.7,16.0),(62.6,18.2),(66.5,21.5),(70.5,23.2),(74,23.7),(78,23.2),(82,21.5),(86,19.3),(90,18.2),(94,17.7),(98,18.2),(102,17.1),(105.7,18.2),(109.6,20.4),(113.5,21.8),(117,21.0),(121,19.3),(125,18.8),(129,18.8),(133,17.1),(137,16.6),(141,16.3),(144.8,16.0),(148.7,16.6),(152.6,17.1),(156.6,16.6),(160.5,16.8),(164,16.6),(168,17.7),(172,18.2),(176,17.7),(180,17.1),(184,17.9),(188,18.2),(192,16.6),(196,14.4),(199.6,13.8),(203.5,14.4),(207.4,14.9),(211,13.8),(215,12.2),(219,11.9),(223,11.6),(227,12.2),(231,11.1),(235,9.5),(238.7,8.6),(242.7,9.7),(246.6,10.8),(250.5,11.6),(254.4,13.3),(258,14.9),(262,13.8),(266,11.6),(270,12.5),(274,13.3),(278,14.4),(281.8,13.8),(285.7,14.7),(289.6,15.5),(293.5,16.0),(297.4,14.9),(301,14.4),(305,13.8),(309,12.7),(313,11.3),(317,10.8),(321,11.1),(325,10.8),(328.8,11.6),(332.7,12.2),(336.6,12.5),(340.5,11.9),(344.4,11.3),(348,10.8),(352,10.0),(356,9.5),(360,9.7),(364,10.0),(368,10.3),(372,9.7),(376,8.9),(379.6,8.6),(383.6,9.2),(388,10.3),(392,8.9),(396,8.1),(400,7.8),(404,8.1),(408,7.5),(412,7.8),(415.6,7.3),(419.5,7.8),(423,8.4),(427,8.1),(431,7.8),(435,8.4),(439,8.9),(443,9.5),(447,8.4),(451,7.8),(455,7.3),(458.6,6.7),(462.5,7.3),(466,6.4),(470,5.3),(474,5.6),(478,6.7),(482,7.3),(486,8.1),(490,8.6),(493.75,8.9),(497.6,8.6),(501.6,8.4),(505.5,8.6),(509,8.4),(513,7.8),(517,7.5),(521,7.3),(525,7.0),(529,7.3),(533,6.7),(537,7.0),(540.6,7.5),(544.5,8.9),(548,9.2),(552,8.4),(556,7.3),(560,6.4),(564,5.6),(568,5.3),(571.9,5.9),(575.8,7.3),(579.7,8.4),(583.6,7.8),(587.5,8.4),(591.4,8.6),(595,8.1),(599,8.4),(603,7.8),(607,8.6),(611,8.4),(615,8.1),(618.75,8.4),(622.6,7.8),(626.6,7.5),(630.5,7.3),(634.4,6.7),(638,7.0),(642,6.7),(646,6.4),(650,6.7),(654,6.4),(658,6.2),(662,5.6),(665.6,5.3),(669.5,5.1),(673,5.1),(677,4.5),(681,4.5),(685,5.3),(689,4.5),(693,4.0),(697,4.0),(701,3.4),(704.7,3.4),(708.6,4.0),(712.5,4.5),(716.4,4.0),(720,2.9),(724,2.3),(728,3.2),(732,4.0),(736,4.5),(740,4.8),(744.5,4.5),(748,4.0),(752,3.4),(756,4.5),(760,5.1),(763.6,6.4),(767.5,7.3),(771.5,7.5),(775,6.7),(779,5.1),(783,4.0),(787,3.4),(791,3.2),(795,4.0),(799,4.5),(802.7,4.2),(806.6,4.0),(810.5,4.5),(814.5,4.0),(818,4.2),(822,4.5),(826,6.7),(830,8.9),(834,7.3),(838,5.1),(842,4.0),(846,4.2),(850,4.5),(854,4.8),(857,5.1),(861,4.5),(865,4.0),(869,3.7),(873,4.0),(877,4.5),(880.5,5.1),(884,4.5),(888,4.0),(892,3.7),(896,2.9),(900,3.7),(904,4.8),(908,1.8),(912,4.0),(915.6,5.1),(919.5,5.3),(923.4,5.1),(927,4.5),(931,4.0),(935,3.4),(939,2.3),(943,1.8),(947,1.8),(951,2.1),(955,2.3),(959,2.6),(963,3.2),(967,3.7),(971,4.0),(975,3.7),(978.5,3.2),(982,3.4),(986,4.0),(990,4.5),(994,4.0),(998,3.4)]
D_RMT = [(12,0),(15.7,4.5),(19.6,8.1),(23.5,9.5),(27.4,11.1),(31,11.6),(35,11.9),(39,12.7),(43,13.3),(47,12.5),(51,12.2),(55,15.5),(58.7,16.0),(62.6,18.2),(66.5,21.5),(70.5,23.2),(74,23.7),(78,23.2),(82,21.5),(86,19.3),(90,18.2),(94,17.7),(98,18.2),(102,17.1),(105.7,18.2),(109.6,20.4),(113.5,21.8),(117,21.0),(121,19.3),(125,18.8),(129,18.8),(133,17.1),(137,16.6),(141,16.3),(144.8,16.0),(148.7,16.6),(152.6,17.1),(156.6,16.6),(160.5,16.8),(164,16.6),(168,17.7),(172,18.2),(176,17.7),(180,17.1),(184,17.9),(188,18.2),(192,16.6),(196,14.4),(199.6,13.8),(203.5,14.4),(207.4,14.9),(211,13.8),(215,12.2),(219,11.9),(223,11.6),(227,12.2),(231,11.1),(235,9.5),(238.7,8.6),(242.7,9.7),(246.6,10.8),(250.5,11.6),(254.4,13.3),(258,14.9),(262,13.8),(266,11.6),(270,12.5),(274,13.3),(278,14.4),(281.8,13.8),(285.7,14.7),(289.6,15.5),(293.5,16.0),(297.4,14.9),(301,14.4),(305,13.8),(309,12.7),(313,11.3),(317,10.8),(321,11.1),(325,10.8),(328.8,11.6),(332.7,12.2),(336.6,12.5),(340.5,11.9),(344.4,11.3),(348,10.8),(352,10.0),(356,9.5),(360,9.7),(364,10.0),(368,10.3),(372,9.7),(376,8.9),(379.6,8.8),(383.6,9.4),(388,10.5),(392,9.1),(396,8.3),(400,8.0),(404,8.3),(408,7.7),(412,8.0),(415.6,7.5),(419.5,8.0),(423,8.6),(427,8.3),(431,8.0),(435,8.6),(439,9.1),(443,9.7),(447,8.6),(451,8.0),(455,7.5),(458.6,6.9),(462.5,7.5),(466,6.6),(470,5.5),(474,5.8),(478,6.9),(482,7.5),(486,8.3),(490,8.8),(493.75,9.1),(497.6,8.8),(501.6,8.6),(505.5,8.8),(509,8.6),(513,8.0),(517,7.7),(521,7.5),(525,7.2),(529,7.5),(533,6.9),(537,7.2),(540.6,7.7),(544.5,9.1),(548,9.4),(552,8.6),(556,7.5),(560,6.8),(564,6.0),(568,5.7),(571.9,6.3),(575.8,7.7),(579.7,8.8),(583.6,8.2),(587.5,8.8),(591.4,9.0),(595,8.5),(599,8.8),(603,8.2),(607,9.0),(611,8.8),(615,8.5),(618.75,8.8),(622.6,8.2),(626.6,7.9),(630.5,7.7),(634.4,7.1),(638,7.4),(642,7.1),(646,6.8),(650,7.1),(654,6.8),(658,6.6),(662,6.0),(665.6,5.7),(669.5,5.5),(673,5.5),(677,4.9),(681,4.9),(685,5.7),(689,4.9),(693,4.4),(697,4.4),(701,3.8),(704.7,3.8),(708.6,4.4),(712.5,4.9),(716.4,4.4),(720,3.3),(724,2.8),(728,3.6),(732,4.4),(736,4.9),(740,5.2),(744.5,4.9),(748,4.4),(752,3.8),(756,4.9),(760,5.5),(763.6,6.8),(767.5,7.6),(771.5,7.8),(775,7.0),(779,5.5),(783,4.4),(787,3.8),(791,3.6),(795,4.4),(799,4.9),(802.7,4.6),(806.6,4.4),(810.5,4.9),(814.5,4.4),(818,4.6),(822,4.9),(826,7.0),(830,9.0),(834,7.6),(838,5.5),(842,4.6),(846,4.8),(850,5.1),(854,5.4),(857,5.7),(861,5.1),(865,4.6),(869,4.3),(873,4.7),(877,5.3),(880.5,5.8),(884,5.3),(888,4.8),(892,4.5),(896,3.8),(900,4.5),(904,5.4),(908,3.0),(912,4.7),(915.6,5.8),(919.5,6.0),(923.4,5.9),(927,5.4),(931,5.0),(935,4.4),(939,3.2),(943,2.6),(947,2.5),(951,2.8),(955,3.2),(959,3.4),(963,3.9),(967,4.4),(971,4.7),(975,4.5),(978.5,4.0),(982,4.1),(986,4.7),(990,5.1),(994,4.7),(998,4.2)]

PANELS = [(A_SDEDE, A_PHYS, A_RMT), (B_SDEDE, B_PHYS, B_RMT),
          (C_SDEDE, C_PHYS, C_RMT), (D_SDEDE, D_PHYS, D_RMT)]

W, H = 427, 365
FRAME = "#8a8a8a"
TXT = "#262626"
FONT = "Liberation Sans"


def panel(i):
    xs = alt.Scale(domain=[0, 1000], nice=False, zero=False)
    ys = alt.Scale(domain=[0, 30], nice=False, zero=False)
    xa = alt.Axis(values=X_TICKS, title="Frequency, Hz", format="d")
    ya = alt.Axis(values=Y_TICKS, title="A-weighted PSD, dB re. arbitrary reference", format="d")
    cs = alt.Scale(domain=SERIES, range=COLORS)
    ds = alt.Scale(domain=SERIES, range=DASHES)
    leg = alt.Legend(title=None)
    layers = []
    for name, pts, w in zip(SERIES, PANELS[i], WIDTHS):
        df = pd.DataFrame({"f": [p[0] for p in pts], "v": [p[1] for p in pts], "s": name})
        layers.append(
            alt.Chart(df).mark_line(strokeWidth=w, clip=True).encode(
                x=alt.X("f:Q", scale=xs, axis=xa),
                y=alt.Y("v:Q", scale=ys, axis=ya),
                color=alt.Color("s:N", scale=cs, legend=leg),
                strokeDash=alt.StrokeDash("s:N", scale=ds, legend=leg),
            )
        )
    xt = pd.DataFrame({"t": X_TICKS})
    yt = pd.DataFrame({"t": Y_TICKS})
    tick = dict(color=FRAME, strokeWidth=1)
    layers.append(alt.Chart(xt).mark_rule(**tick).encode(
        x=alt.X("t:Q", scale=xs, axis=xa), y=alt.value(H), y2=alt.value(H - 5)))
    layers.append(alt.Chart(xt).mark_rule(**tick).encode(
        x=alt.X("t:Q", scale=xs, axis=xa), y=alt.value(0), y2=alt.value(5)))
    layers.append(alt.Chart(yt).mark_rule(**tick).encode(
        y=alt.Y("t:Q", scale=ys, axis=ya), x=alt.value(0), x2=alt.value(5)))
    layers.append(alt.Chart(yt).mark_rule(**tick).encode(
        y=alt.Y("t:Q", scale=ys, axis=ya), x=alt.value(W - 5), x2=alt.value(W)))
    lab = pd.DataFrame({"lab": [LABELS[i]], "ttl": [TITLES[i]]})
    layers.append(alt.Chart(lab).mark_text(
        align="left", baseline="top", font="Liberation Serif", fontStyle="italic",
        fontSize=22, color="#000000").encode(
        x=alt.value(-101), y=alt.value(-40), text="lab:N"))
    layers.append(alt.Chart(lab).mark_text(
        align="center", baseline="alphabetic", font=FONT, fontWeight="bold",
        fontSize=18, color="#000000").encode(
        x=alt.value(W / 2), y=alt.value(-9), text="ttl:N"))
    return alt.layer(*layers).properties(width=W, height=H)


res = dict(color="independent", strokeDash="independent")
chart = (
    alt.concat(panel(0), panel(1), panel(2), panel(3), columns=2,
               spacing={"row": 95, "column": 164}, bounds="flush")
    .resolve_scale(**res).resolve_legend(**res)
    .properties(padding={"left": 9, "top": 13, "right": 10, "bottom": 10})
    .configure_view(stroke=FRAME, strokeWidth=1)
    .configure_axis(domain=False, ticks=False, grid=False, labelFont=FONT, labelFontSize=17,
                    labelColor=TXT, titleFont=FONT, titleFontSize=18.5, titleColor=TXT,
                    titleFontWeight="normal", labelFlush=False)
    .configure_axisX(labelPadding=8, titlePadding=6)
    .configure_axisY(labelPadding=5, titlePadding=0)
    .configure_legend(orient="top-right", offset=7, padding=3, fillColor="#ffffff",
                      strokeColor=FRAME, labelFont=FONT, labelFontSize=14.3, labelColor="#000000",
                      symbolType="stroke", symbolSize=324, symbolStrokeWidth=2,
                      rowPadding=1, labelOffset=2, cornerRadius=0, labelLimit=400)
)
chart.save("out.html", embed_options={"renderer": "svg", "actions": False})
